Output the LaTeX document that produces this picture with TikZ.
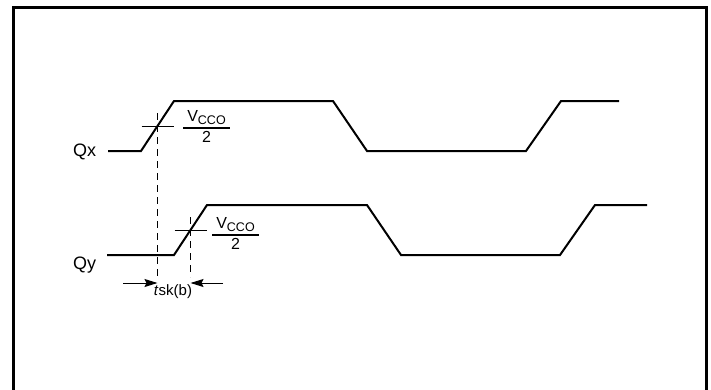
\documentclass[tikz,border=0pt]{standalone}
\usepackage{fontspec}
\setsansfont{Liberation Sans}
\usetikzlibrary{calc,arrows.meta}

\setlength{\arrayrulewidth}{1.5pt}

\begin{document}
\begin{tikzpicture}[x=1pt,y=-1pt]\sffamily
\def\xmin{0}
\def\xmax{711}
\def\ymin{0}
\def\ymax{389}

\useasboundingbox (\xmin,\ymin) rectangle (\xmax,\ymax);

% Frame round the figure (its bottom edge lies below the page)
\draw[line width=3pt] (13.5,7.5) rectangle (706.5,420);

% Styles for the waveforms, the marks and the texts
\tikzstyle{signal}=[line width=2pt, line join=miter]
\tikzstyle{marker}=[line width=1pt]
\tikzstyle{guide}=[line width=1pt, dash pattern=on 7pt off 5pt]
\tikzstyle{skewarrow}=[line width=1pt, -{Stealth[length=13pt,width=8pt,inset=2pt]}]
\tikzstyle{signame}=[font=\fontsize{18}{21}\selectfont, inner sep=0pt]
\tikzstyle{halflabel}=[font=\fontsize{16}{19}\selectfont, inner sep=0pt]
\tikzstyle{skewlabel}=[font=\fontsize{15}{18}\selectfont, inner sep=0pt]

% V_CCO over 2, set as a small fraction
\newcommand{\halfvcco}{\begin{tabular}{@{\hspace{4pt}}c@{\hspace{4pt}}}V\raisebox{-3pt}{\fontsize{12.5}{14}\selectfont CCO}\\\hline 2\end{tabular}}

% This command draws one output waveform
\newcommand{\drawsignal}[6]{
% #1 = name of the output
% #2 = x of the left end, #3 = x where the first edge starts
% #4 = y of the low level
% #5 = length of the high part, #6 = x of the right end
\draw[signal] (#2,#4) -- (#3,#4) -- ++(33,-50) -- ++(#5,0) -- ++(34,50)
  -- ++(159,0) -- ++(35,-50) -- (#6,#4-50);

% Half swing point of the first rising edge, with its cross mark
\coordinate (#1mid) at (#3+16.5,#4-25);
\coordinate (#1foot) at (#3+16.5,283);
\draw[marker] ($(#1mid)+(-16,0)$) -- ($(#1mid)+(16,0)$);

% Dashed guide from the edge down to the skew arrows
\draw[guide] ($(#1mid)+(0,-13)$) -- ($(#1foot)+(0,-6)$);
} % End of definition of `drawsignal`

% The two outputs
\drawsignal{qx}{108}{141}{151}{159}{619}
\drawsignal{qy}{107}{174}{255}{160}{647}

% Names of the outputs
\node[signame, anchor=base west] (qx) at (73,156.5) {Qx};
\node[signame, anchor=base west] (qy) at (73,269) {Qy};

% Threshold labels
\node[halflabel] (halfx) at ($(qxmid)+(49,2)$) {\halfvcco};
\node[halflabel] (halfy) at ($(qymid)+(45,5)$) {\halfvcco};

% Skew between the two edges
\coordinate (skewleft) at (123,283);
\coordinate (skewright) at (223,283);
\draw[skewarrow] (skewleft) -- (qxfoot);
\draw[skewarrow] (skewright) -- (qyfoot);
\node[skewlabel] (skew) at (173,292) {\textit{t}sk(b)};

\end{tikzpicture}
\end{document}
